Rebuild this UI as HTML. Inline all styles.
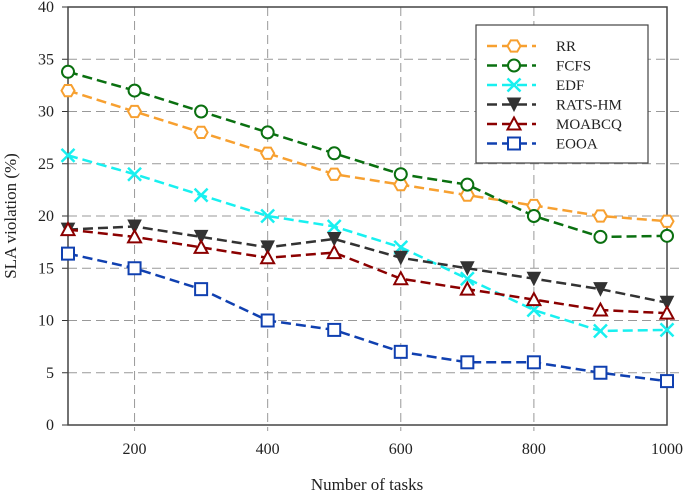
<!DOCTYPE html>
<html><head><meta charset="utf-8"><style>
body{margin:0;background:#fff}
svg{display:block;font-family:"Liberation Serif",serif}
</style></head><body>
<svg id="c" width="685" height="495"></svg>
<script>
const categories=[100,200,300,400,500,600,700,800,900,1000];
const rrValues=[32,30,28,26,24,23,22,21,20,19.5];
const fcfsValues=[33.8,32,30,28,26,24,23,20,18,18.1];
const edfValues=[25.8,24,22,20,19,17,14,11,9,9.1];
const ratsValues=[18.7,19,18,17,17.8,16,15,14,13,11.7];
const moabcqValues=[18.7,18,17,16,16.5,14,13,12,11,10.7];
const eooaValues=[16.4,15,13,10,9.1,7,6,6,5,4.2];
const xTicks=[200,400,600,800,1000];
const yTicks=[0,5,10,15,20,25,30,35,40];
const seriesNames=["RR","FCFS","EDF","RATS-HM","MOABCQ","EOOA"];
const seriesColors=["#f7a030","#0a7010","#18f0f0","#333333","#8b0000","#1040b0"];
const seriesMarkers=["hex","circle","x","tri-down","tri-up","square"];
const seriesData=[rrValues,fcfsValues,edfValues,ratsValues,moabcqValues,eooaValues];

const L=68,R=667,T=7,B=425;
const xs=v=>L+(v-100)/900*(R-L);
const ys=v=>B-v/40*(B-T);
const svg=document.getElementById('c');
const NS='http://www.w3.org/2000/svg';
function mk(tag,attrs,parent){const e=document.createElementNS(NS,tag);for(const k in attrs)e.setAttribute(k,attrs[k]);(parent||svg).appendChild(e);return e;}

yTicks.forEach(t=>{
  if(t>0&&t<40){const g=mk('line',{x1:L,x2:R+12,y1:ys(t),y2:ys(t),stroke:'#999','stroke-dasharray':'9,5','stroke-width':1});
  
  }
  const tk=mk('line',{x1:L-6,x2:L,y1:ys(t),y2:ys(t),stroke:'#333'});
  
  
  const tx=mk('text',{x:L-14,y:ys(t)+5,'text-anchor':'end','font-size':16,fill:'#222'});
  tx.textContent=t;
  
  
});
xTicks.forEach(t=>{
  if(t<1000){const g=mk('line',{x1:xs(t),x2:xs(t),y1:T,y2:B+6,stroke:'#999','stroke-dasharray':'9,5'});
  
  }
  const tx=mk('text',{x:xs(t),y:B+29,'text-anchor':'middle','font-size':16,fill:'#222'});
  tx.textContent=t;
  
  
});
const frame=mk('rect',{x:L,y:T,width:R-L,height:B-T,fill:'none',stroke:'#444','stroke-width':1.5});



function marker(type,x,y,c,parent){
  const s=6.5;let e;
  if(type==='circle')e=mk('circle',{cx:x,cy:y,r:s-0.5,fill:'#fff',stroke:c,'stroke-width':2},parent);
  else if(type==='hex'){const p=[];for(let i=0;i<6;i++){const a=Math.PI/3*i;p.push((x+s*Math.cos(a))+','+(y+s*Math.sin(a)));}
    e=mk('polygon',{points:p.join(' '),fill:'#fff',stroke:c,'stroke-width':2},parent);}
  else if(type==='x')e=mk('path',{d:`M${x-s} ${y-s}L${x+s} ${y+s}M${x-s} ${y+s}L${x+s} ${y-s}`,stroke:c,'stroke-width':2.5},parent);
  else if(type==='tri-down')e=mk('polygon',{points:`${x-s} ${y-s} ${x+s} ${y-s} ${x} ${y+s}`,fill:c,stroke:c},parent);
  else if(type==='tri-up')e=mk('polygon',{points:`${x-s} ${y+s-1} ${x+s} ${y+s-1} ${x} ${y-s}`,fill:'#fff',stroke:c,'stroke-width':2},parent);
  else e=mk('rect',{x:x-s+0.5,y:y-s+0.5,width:2*s-1,height:2*s-1,fill:'#fff',stroke:c,'stroke-width':2},parent);
  return e;
}

seriesData.forEach((vals,i)=>{
  const g=mk('g',{});
  
  
  const pts=vals.map((v,j)=>xs(categories[j])+','+ys(v)).join(' ');
  const pl=mk('polyline',{points:pts,fill:'none',stroke:seriesColors[i],'stroke-width':2.5,'stroke-dasharray':'10,5'},g);
  
  
  vals.forEach((v,j)=>{
    const m=marker(seriesMarkers[i],xs(categories[j]),ys(v),seriesColors[i],g);
    
    
  });
});

const lg=mk('g',{});


mk('rect',{x:476,y:25,width:172,height:138,fill:'#fff',stroke:'#444','stroke-width':1.2},lg);
seriesNames.forEach((n,i)=>{
  const y=46+i*19.5;
  const e=mk('g',{},lg);
  
  
  mk('line',{x1:487,x2:536,y1:y,y2:y,stroke:seriesColors[i],'stroke-width':2.5,'stroke-dasharray':'10,5'},e);
  marker(seriesMarkers[i],514,y,seriesColors[i],e);
  const t=mk('text',{x:556,y:y+5,'font-size':15,fill:'#222'},e);
  t.textContent=n;
});

const xt=mk('text',{x:367,y:490,'text-anchor':'middle','font-size':17,fill:'#222'});
xt.textContent='Number of tasks';


const yt=mk('text',{x:0,y:0,'text-anchor':'middle','font-size':17,fill:'#222',transform:'translate(16,216) rotate(-90)'});
yt.textContent='SLA violation (%)';


</script>
</body></html>
